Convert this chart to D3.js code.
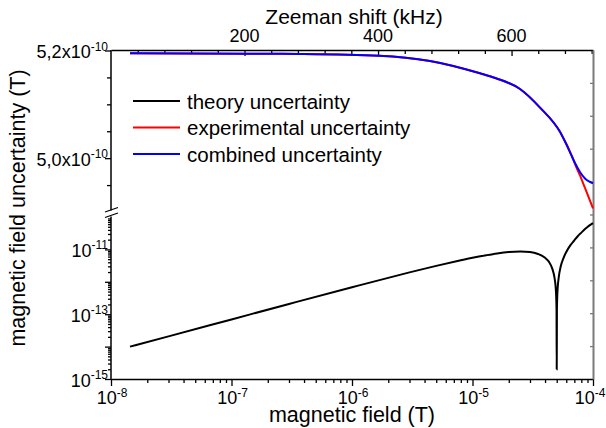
<!DOCTYPE html>
<html><head><meta charset="utf-8">
<script src="https://cdn.jsdelivr.net/npm/d3@7"></script>
<style>
body{margin:0;background:#fff}
svg{display:block}
text{font-family:"Liberation Sans",Arial,sans-serif;fill:#000}
</style></head>
<body><svg id="c" width="606" height="428"></svg>
<script>
// ---- data ----
const B_THEORY = [1.438e-8,3e-8,1e-7,3e-7,1e-6,3e-6,5e-6,8e-6,1e-5,1.3e-5,1.6e-5,2e-5,2.5e-5,3e-5,3.5e-5,4e-5,4.3e-5,4.6e-5,4.8e-5,4.9e-5,4.95e-5,4.98e-5,5.0e-5,5.02e-5,5.05e-5,5.1e-5,5.2e-5,5.4e-5,5.7e-5,6e-5,6.5e-5,7e-5,7.5e-5,8e-5,8.5e-5,9e-5,9.5e-5,1e-4];
const THEORY = [1.0e-14,2.07e-14,6.9e-14,2.07e-13,6.8e-13,1.95e-12,3.1e-12,4.6e-12,5.5e-12,6.6e-12,7.5e-12,8.3e-12,8.6e-12,8.3e-12,7.2e-12,5.5e-12,4.2e-12,2.5e-12,1.3e-12,6.8e-13,3.4e-13,1.4e-13,2e-15,1.4e-13,3.5e-13,7e-13,1.4e-12,3e-12,5.5e-12,8.3e-12,1.35e-11,1.9e-11,2.6e-11,3.3e-11,4.1e-11,4.9e-11,5.7e-11,6.5e-11];

const B_EXP = [1.438e-8,1.294e-7,3.70e-7,1.675e-6,4.44e-6,1.154e-5,1.567e-5,2.478e-5,3.633e-5,5.32e-5,6.82e-5,7.09e-5,7.80e-5,8.58e-5,1e-4];
const EXPERIMENTAL = [5.1948e-10,5.1941e-10,5.1935e-10,5.1903e-10,5.1805e-10,5.1576e-10,5.1484e-10,5.1285e-10,5.0940e-10,5.0490e-10,4.9990e-10,4.9890e-10,4.9680e-10,4.9446e-10,4.9069e-10];

const B_COMB = [1.438e-8,1.294e-7,3.70e-7,1.675e-6,4.44e-6,1.154e-5,1.567e-5,2.478e-5,3.633e-5,5.32e-5,6.82e-5,7.09e-5,7.80e-5,8.58e-5,9.26e-5,1e-4];
const COMBINED = [5.1948e-10,5.1941e-10,5.1935e-10,5.1903e-10,5.1805e-10,5.1576e-10,5.1484e-10,5.1285e-10,5.0940e-10,5.0490e-10,4.9990e-10,4.9910e-10,4.9743e-10,4.9622e-10,4.9567e-10,4.9533e-10];

const SERIES_NAMES = ["theory uncertainty","experimental uncertainty","combined uncertainty"];
const SERIES_COLORS = ["#000000","#ff0000","#0000ff"];

const X_MAJOR = [1e-8,1e-7,1e-6,1e-5,1e-4];
const X_LABEL_EXP = ["-8","-7","-6","-5","-4"];
const TOP_MAJOR = [200,400,600];
const TOP_MINOR = [40,80,120,160,240,280,320,360,440,480,520,560,640,680,720];
const YUP_MAJOR = [5.2e-10,5.0e-10];
const YUP_LABELS = ["5,2x10","5,0x10"];
const YUP_MINOR = [5.15e-10,5.1e-10,5.05e-10,4.95e-10];
const YLOW_MAJOR = [1e-15,1e-14,1e-13,1e-12,1e-11];
const YLOW_LABELED = [1e-15,1e-13,1e-11];
const YLOW_LABEL_EXP = ["-15","-13","-11"];
const RIGHT_TICKS = [1,2,3,4,5,6,7,8,9];

// ---- layout ----
const L=111, R=593, T=50, Bt=379;
const svg = d3.select("#c");

const x = d3.scaleLog().domain([1e-8,1e-4]).range([L,R]);
const xTop = d3.scaleLinear().domain([0,722]).range([L,R]);
const yUp = d3.scaleLinear().domain([4.9e-10,5.2e-10]).range([212,50.5]);
const yLow = d3.scaleLog().domain([1e-15,1e-10]).range([Bt,217]);
const yRight = d3.scaleLinear().domain([0,10]).range([Bt,T]);

function minorLog(lo, hi){
  const out=[];
  for(let e=lo;e<hi;e++) for(let m=2;m<=9;m++) out.push(m*Math.pow(10,e));
  return out;
}

function styleAxis(g, w){
  g.selectAll("path.domain").attr("stroke","#000").attr("stroke-width",w||1.5);
  g.selectAll(".tick line").attr("stroke","#000").attr("stroke-width",1.3);
  g.selectAll(".tick text").remove();
}

// bottom axis
let g = svg.append("g").attr("transform",`translate(0,${Bt})`)
  .call(d3.axisBottom(x).tickValues(minorLog(-8,-4)).tickSize(4).tickSizeOuter(0).tickFormat(""));
styleAxis(g); g.select("path.domain").remove();
g = svg.append("g").attr("transform",`translate(0,${Bt})`)
  .call(d3.axisBottom(x).tickValues(X_MAJOR).tickSize(7).tickSizeOuter(0).tickFormat(""));
styleAxis(g);

// top axis (inward ticks)
g = svg.append("g").attr("transform",`translate(0,${T})`)
  .call(d3.axisBottom(xTop).tickValues(TOP_MINOR).tickSize(4).tickSizeOuter(0).tickFormat(""));
styleAxis(g,1.5);
g = svg.append("g").attr("transform",`translate(0,${T})`)
  .call(d3.axisBottom(xTop).tickValues(TOP_MAJOR).tickSize(6).tickSizeOuter(0).tickFormat(""));
styleAxis(g); g.select("path.domain").remove();

// right axis (grey, inward ticks)
g = svg.append("g").attr("transform",`translate(${R},0)`)
  .call(d3.axisLeft(yRight).tickValues(RIGHT_TICKS).tickSize(3).tickSizeOuter(0).tickFormat(""));
g.selectAll("path.domain").attr("stroke","#7a7a7a").attr("stroke-width",2);
g.selectAll(".tick line").attr("stroke","#7a7a7a").attr("stroke-width",1.3);

// left upper (linear)
g = svg.append("g").attr("transform",`translate(${L},0)`)
  .call(d3.axisLeft(yUp).tickValues(YUP_MINOR).tickSize(4).tickSizeOuter(0).tickFormat(""));
styleAxis(g);
g.select("path.domain").attr("d",`M0,${T}V210.5`);
g = svg.append("g").attr("transform",`translate(${L},0)`)
  .call(d3.axisLeft(yUp).tickValues(YUP_MAJOR).tickSize(6).tickSizeOuter(0).tickFormat(""));
styleAxis(g); g.select("path.domain").remove();

// left lower (log)
g = svg.append("g").attr("transform",`translate(${L},0)`)
  .call(d3.axisLeft(yLow).tickValues(minorLog(-15,-10)).tickSize(3).tickSizeOuter(0).tickFormat(""));
styleAxis(g);
g.select("path.domain").attr("d",`M0,216.5V${Bt}`);
g = svg.append("g").attr("transform",`translate(${L},0)`)
  .call(d3.axisLeft(yLow).tickValues(YLOW_MAJOR).tickSize(6).tickSizeOuter(0).tickFormat(""));
styleAxis(g); g.select("path.domain").remove();

// break marks
svg.append("line").attr("x1",105).attr("y1",212).attr("x2",118).attr("y2",207.5).attr("stroke","#000").attr("stroke-width",1.3);
svg.append("line").attr("x1",105).attr("y1",217.5).attr("x2",118).attr("y2",213).attr("stroke","#000").attr("stroke-width",1.3);

// ---- labels ----
const FS=18, SFS=12;
function supText(px, py, base, sup, anchor){
  const t = svg.append("text").attr("x",px).attr("y",py).attr("text-anchor",anchor).style("font-size",FS+"px");
  t.append("tspan").text(base);
  t.append("tspan").attr("dy",-7.5).style("font-size",SFS+"px").text(sup);
}
X_MAJOR.forEach((v,i)=>supText(i===X_MAJOR.length-1 ? 605.5 : x(v)+1, 404, "10", X_LABEL_EXP[i], i===X_MAJOR.length-1 ? "end" : "middle"));
YLOW_LABELED.forEach((v,i)=>supText(108, yLow(v)+7.5, "10", YLOW_LABEL_EXP[i], "end"));
YUP_MAJOR.forEach((v,i)=>supText(108, yUp(v)+7.5, YUP_LABELS[i], "-10", "end"));
TOP_MAJOR.forEach(v=>svg.append("text").attr("x",xTop(v)).attr("y",41.5).attr("text-anchor","middle").style("font-size",FS+"px").text(v));

svg.append("text").attr("x",354).attr("y",24).attr("text-anchor","middle").style("font-size","21px").text("Zeeman shift (kHz)");
svg.append("text").attr("x",352).attr("y",421.5).attr("text-anchor","middle").style("font-size","21.5px").text("magnetic field (T)");
svg.append("text").attr("transform","translate(25,208) rotate(-90)").attr("text-anchor","middle").style("font-size","21.5px").text("magnetic field uncertainty (T)");

// ---- curves ----
const lineLow = d3.line().x(d=>x(d[0])).y(d=>yLow(d[1])).curve(d3.curveMonotoneX);
const lineUp = d3.line().x(d=>x(d[0])).y(d=>yUp(d[1])).curve(d3.curveMonotoneX);
svg.append("path").attr("d",lineLow(d3.zip(B_THEORY,THEORY))).attr("fill","none").attr("stroke",SERIES_COLORS[0]).attr("stroke-width",2);
svg.append("path").attr("d",lineUp(d3.zip(B_EXP,EXPERIMENTAL))).attr("fill","none").attr("stroke",SERIES_COLORS[1]).attr("stroke-width",2);
svg.append("path").attr("d",lineUp(d3.zip(B_COMB,COMBINED))).attr("fill","none").attr("stroke",SERIES_COLORS[2]).attr("stroke-width",2);

// ---- legend ----
SERIES_NAMES.forEach((n,i)=>{
  const yy = 101 + i*26.5;
  svg.append("line").attr("x1",133).attr("x2",180).attr("y1",yy).attr("y2",yy).attr("stroke",SERIES_COLORS[i]).attr("stroke-width",2);
  svg.append("text").attr("x",187).attr("y",yy+7.5).style("font-size","20.5px").text(n);
});
</script></body></html>
